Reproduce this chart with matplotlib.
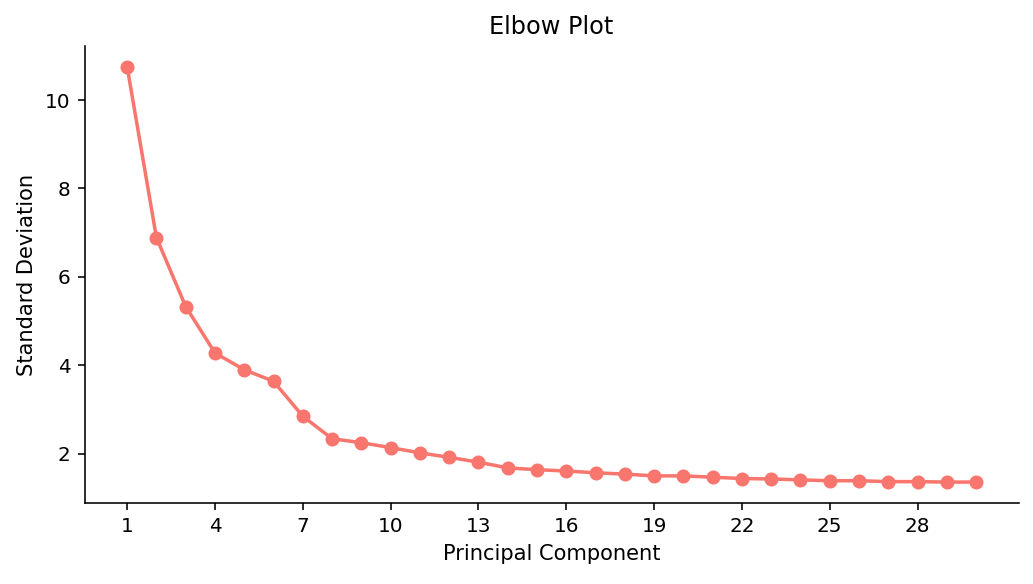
import numpy as np
import matplotlib
matplotlib.use("Agg")
import matplotlib.pyplot as plt

# Standard deviation of each principal component
components = list(range(1, 31))
std_dev = [10.75, 6.89, 5.33, 4.28, 3.90, 3.64, 2.85, 2.34, 2.25, 2.14,
           2.02, 1.92, 1.81, 1.68, 1.64, 1.61, 1.57, 1.54, 1.50, 1.50,
           1.47, 1.44, 1.43, 1.41, 1.39, 1.39, 1.37, 1.37, 1.36, 1.36]
x_ticks = list(range(1, 31, 3))

fig, ax = plt.subplots(figsize=(1033 / 144, 584 / 144), dpi=144)
ax.plot(components, std_dev, color="#F8766D", linewidth=1.75,
        marker="o", markersize=6)
ax.set_xticks(x_ticks)
ax.set_title("Elbow Plot", fontsize=12)
ax.set_xlabel("Principal Component", fontsize=10.5)
ax.set_ylabel("Standard Deviation", fontsize=10.5)
ax.tick_params(labelsize=10)
for side in ("top", "right"):
    ax.spines[side].set_visible(False)
fig.subplots_adjust(left=0.082, right=0.986, top=0.921, bottom=0.139)
fig.savefig("out.png")
